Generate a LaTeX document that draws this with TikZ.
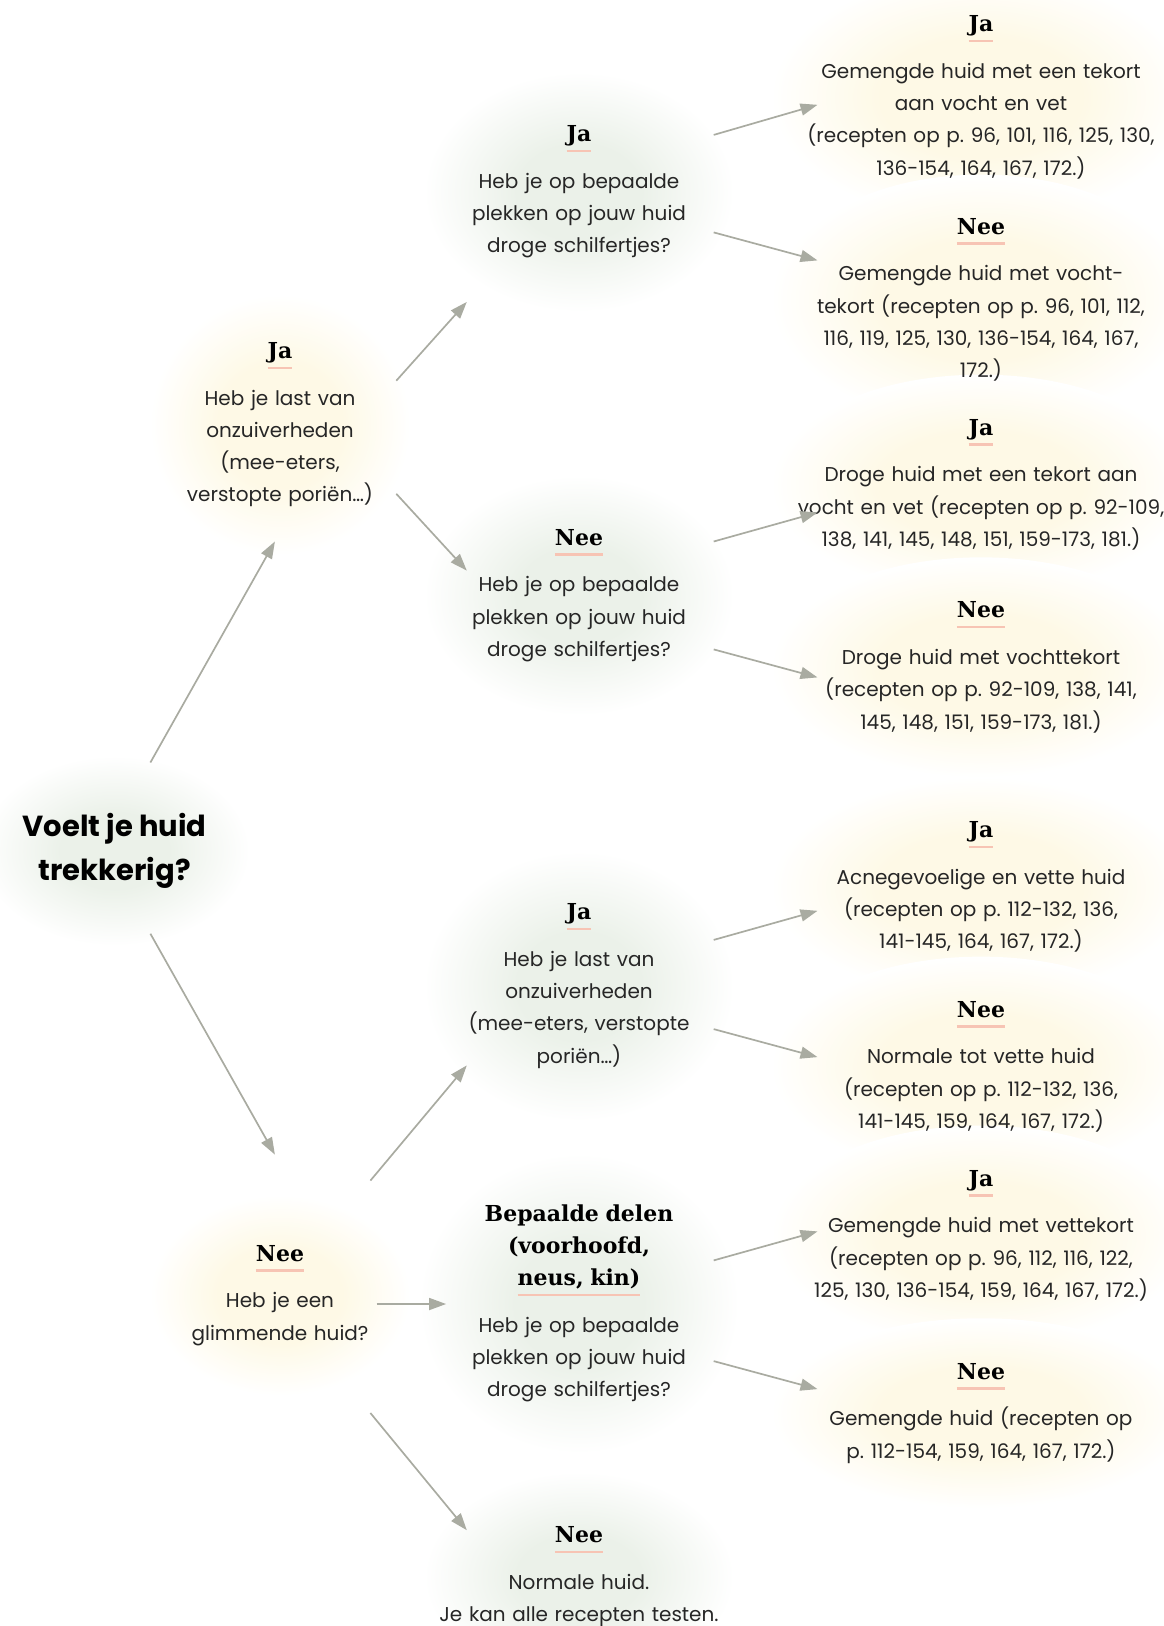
\documentclass[tikz,border=0pt]{standalone}
\usepackage{fontspec}
\setmainfont{Poppins}
\newfontfamily\headserif{DejaVu Serif}
\usepackage{tikz}
\usetikzlibrary{arrows.meta}
\usetikzlibrary{backgrounds}

\definecolor{bodytext}{HTML}{262626}
\definecolor{arrowgray}{HTML}{A9ABA1}
\definecolor{salmon}{HTML}{F7C4B4}
\definecolor{mintglow}{HTML}{EBF1E9}
\definecolor{creamglow}{HTML}{FEF9E6}

\pgfdeclareradialshading{mintblob}{\pgfpoint{0bp}{0bp}}{color(0bp)=(mintglow); color(10bp)=(mintglow); color(25bp)=(white); color(50bp)=(white)}
\pgfdeclareradialshading{creamblob}{\pgfpoint{0bp}{0bp}}{color(0bp)=(creamglow); color(12bp)=(creamglow); color(25bp)=(white); color(50bp)=(white)}

\newcommand\hdtext[1]{{\headserif\bfseries\fontsize{22}{32}\selectfont\color{black}#1}}
\newcommand\answer[1]{\leavevmode\setbox0\hbox{\hdtext{#1}}\rlap{\raisebox{-10.5pt}[0pt][0pt]{\color{salmon}\rule{\wd0}{2.4pt}}}\box0}

\tikzset{
  question/.style={align=center, inner sep=0pt, anchor=north, text=bodytext,
    font=\frenchspacing\fontsize{20}{32.2}\selectfont},
  col1/.style={question, text width=240pt},
  col2/.style={question, text width=300pt},
  col3/.style={question, text width=400pt},
  start/.style={align=center, inner sep=0pt, text=black,
    font=\bfseries\fontsize{29}{44.6}\selectfont},
  arr/.style={draw=arrowgray, line width=1.7pt, -{Triangle[length=17pt,width=12pt]}},
  mint/.style={shading=mintblob},
  cream/.style={shading=creamblob}
}

\begin{document}
\begin{tikzpicture}[x=1pt,y=-1pt]
\useasboundingbox (0,0) rectangle (1164,1626);

\node[start] (trekkerig) at (114.6,850.7) {Voelt je huid\\trekkerig?};

\node[col1] (onzuiver) at (280,342.3) {\answer{Ja}\\[14.5pt]Heb je last van\\onzuiverheden\\(mee-eters,\\verstopte poriën…)};
\node[col1] (glimmend) at (280,1245) {\answer{Nee}\\[14.5pt]Heb je een\\glimmende huid?};

\node[col2] (schilferJa) at (579,125.5) {\answer{Ja}\\[14.5pt]Heb je op bepaalde\\plekken op jouw huid\\droge schilfertjes?};
\node[col2] (schilferNee) at (579,529) {\answer{Nee}\\[14.5pt]Heb je op bepaalde\\plekken op jouw huid\\droge schilfertjes?};
\node[col2] (onzuiverJa) at (579,903.6) {\answer{Ja}\\[14.5pt]Heb je last van\\onzuiverheden\\(mee-eters, verstopte\\poriën…)};
\node[col2] (delen) at (579,1204.4) {\hdtext{Bepaalde delen}\\\hdtext{(voorhoofd,}\\\answer{neus, kin)}\\[14.5pt]Heb je op bepaalde\\plekken op jouw huid\\droge schilfertjes?};
\node[col2] (normaal) at (579,1526.5) {\answer{Nee}\\[14.5pt]Normale huid.\\Je kan alle recepten testen.};

\node[col3] (gemVochtVet) at (981,15.6) {\answer{Ja}\\[14.5pt]Gemengde huid met een tekort\\aan vocht en vet\\(recepten op p. 96, 101, 116, 125, 130,\\136-154, 164, 167, 172.)};
\node[col3] (gemVocht) at (981,217.9) {\answer{Nee}\\[14.5pt]Gemengde huid met vocht-\\tekort (recepten op p. 96, 101, 112,\\116, 119, 125, 130, 136-154, 164, 167,\\172.)};
\node[col3] (drogeVochtVet) at (981,419) {\answer{Ja}\\[14.5pt]Droge huid met een tekort aan\\vocht en vet (recepten op p. 92-109,\\138, 141, 145, 148, 151, 159-173, 181.)};
\node[col3] (drogeVocht) at (981,601.7) {\answer{Nee}\\[14.5pt]Droge huid met vochttekort\\(recepten op p. 92-109, 138, 141,\\145, 148, 151, 159-173, 181.)};
\node[col3] (acne) at (981,821.6) {\answer{Ja}\\[14.5pt]Acnegevoelige en vette huid\\(recepten op p. 112-132, 136,\\141-145, 164, 167, 172.)};
\node[col3] (normaalVet) at (981,1001) {\answer{Nee}\\[14.5pt]Normale tot vette huid\\(recepten op p. 112-132, 136,\\141-145, 159, 164, 167, 172.)};
\node[col3] (gemVet) at (981,1170) {\answer{Ja}\\[14.5pt]Gemengde huid met vettekort\\(recepten op p. 96, 112, 116, 122,\\125, 130, 136-154, 159, 164, 167, 172.)};
\node[col3] (gemengd) at (981,1363) {\answer{Nee}\\[14.5pt]Gemengde huid (recepten op\\p. 112-154, 159, 164, 167, 172.)};

\begin{scope}[on background layer]
\shade[mint] (trekkerig.center) ellipse [x radius=135pt, y radius=95pt];
\shade[cream] (onzuiver.center) ellipse [x radius=130pt, y radius=130pt];
\shade[cream] (glimmend.center) ellipse [x radius=130pt, y radius=100pt];
\shade[mint] (schilferJa.center) ellipse [x radius=155pt, y radius=120pt];
\shade[mint] (schilferNee.center) ellipse [x radius=155pt, y radius=120pt];
\shade[mint] (onzuiverJa.center) ellipse [x radius=155pt, y radius=135pt];
\shade[mint] (delen.center) ellipse [x radius=160pt, y radius=150pt];
\shade[mint] (normaal.center) ellipse [x radius=155pt, y radius=105pt];
\shade[cream] (gemVochtVet.center) ellipse [x radius=210pt, y radius=125pt];
\shade[cream] (gemVocht.center) ellipse [x radius=210pt, y radius=125pt];
\shade[cream] (drogeVochtVet.center) ellipse [x radius=210pt, y radius=110pt];
\shade[cream] (drogeVocht.center) ellipse [x radius=210pt, y radius=110pt];
\shade[cream] (acne.center) ellipse [x radius=210pt, y radius=110pt];
\shade[cream] (normaalVet.center) ellipse [x radius=210pt, y radius=110pt];
\shade[cream] (gemVet.center) ellipse [x radius=210pt, y radius=110pt];
\shade[cream] (gemengd.center) ellipse [x radius=210pt, y radius=95pt];
\end{scope}

\draw[arr] ([shift={(35.8,-88.2)}]trekkerig.center) -- ([shift={(-5.1,199.2)}]onzuiver.north);
\draw[arr] ([shift={(35.8,83)}]trekkerig.center) -- ([shift={(-5.1,-90.4)}]glimmend.north);
\draw[arr] ([shift={(116.3,38.4)}]onzuiver.north) -- ([shift={(-112.2,176.4)}]schilferJa.north);
\draw[arr] ([shift={(116.3,151.5)}]onzuiver.north) -- ([shift={(-112.2,41.6)}]schilferNee.north);
\draw[arr] ([shift={(90.4,-64.4)}]glimmend.north) -- ([shift={(-112.2,161.8)}]onzuiverJa.north);
\draw[arr] ([shift={(96.6,59)}]glimmend.north) -- ([shift={(-132.9,99.6)}]delen.north);
\draw[arr] ([shift={(90.4,168)}]glimmend.north) -- ([shift={(-112.2,3.7)}]normaal.north);
\draw[arr] ([shift={(134.7,9.4)}]schilferJa.north) -- ([shift={(-163.5,89.2)}]gemVochtVet.north);
\draw[arr] ([shift={(134.7,106.9)}]schilferJa.north) -- ([shift={(-163.5,42.5)}]gemVocht.north);
\draw[arr] ([shift={(134.7,12.5)}]schilferNee.north) -- ([shift={(-163.5,93.5)}]drogeVochtVet.north);
\draw[arr] ([shift={(134.7,120.4)}]schilferNee.north) -- ([shift={(-163.5,75.7)}]drogeVocht.north);
\draw[arr] ([shift={(134.7,36.3)}]onzuiverJa.north) -- ([shift={(-163.5,89.2)}]acne.north);
\draw[arr] ([shift={(134.7,125.5)}]onzuiverJa.north) -- ([shift={(-163.5,56.1)}]normaalVet.north);
\draw[arr] ([shift={(134.7,56)}]delen.north) -- ([shift={(-163.5,61.4)}]gemVet.north);
\draw[arr] ([shift={(134.7,156.7)}]delen.north) -- ([shift={(-163.5,26.1)}]gemengd.north);
\end{tikzpicture}
\end{document}
